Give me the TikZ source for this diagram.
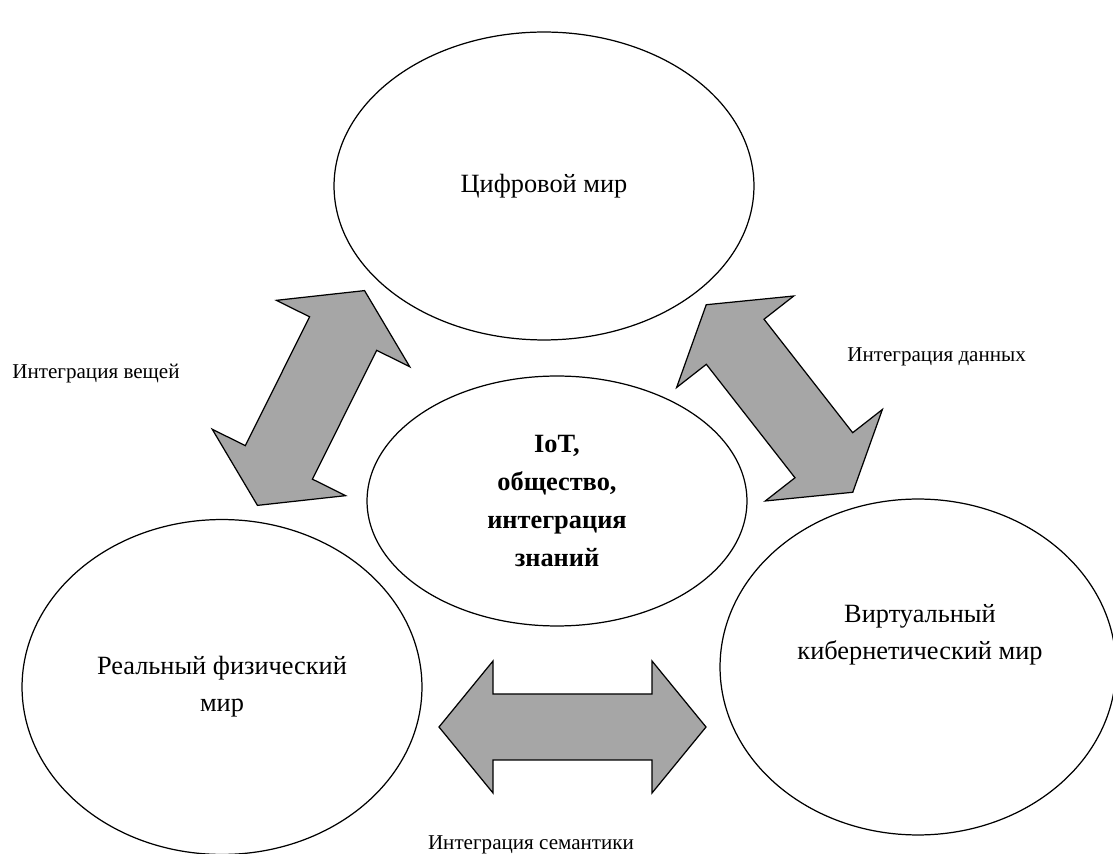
\documentclass[tikz,border=0pt]{standalone}
\usepackage{fontspec}
\setmainfont{Liberation Serif}
\usetikzlibrary{shapes.geometric}
\definecolor{arrowgray}{RGB}{166,166,166}
\tikzset{
	world/.style = {draw = black, line width = 0.7pt, ellipse, inner sep = 0pt, align = center, font = \fontsize{15}{21}\selectfont},
	worldtext/.style = {inner sep = 0pt, align = center, font = \fontsize{15}{21}\selectfont},
	linktext/.style = {inner sep = 0pt, font = \fontsize{12}{14}\selectfont},
	bigarrow/.style = {draw = black, line width = 0.7pt, fill = arrowgray, line join = miter}
}
\begin{document}
\begin{tikzpicture}[x = 0.02cm, y = -0.02cm]
	\useasboundingbox (0, 0) rectangle (1113, 854);
	\node[world, minimum width = 8.4cm, minimum height = 6.16cm] (digital) at (544, 186) {Цифровой мир};
	\node[world, minimum width = 8cm, minimum height = 6.7cm] (physical) at (222, 687) {Реальный физический\\мир};
	\node[world, minimum width = 7.92cm, minimum height = 6.72cm] (virtual) at (918, 667) {};
	\node[worldtext] (virtualtext) at (920, 635) {Виртуальный\\кибернетический мир};
	\node[world, minimum width = 7.6cm, minimum height = 5cm, font = \bfseries\fontsize{15}{21.8}\selectfont] (iot) at (557, 501) {IoT,\\общество,\\интеграция\\знаний};
	\draw[bigarrow, shift = {(311, 398)}, rotate = 63.5] (-120, 0) -- (-72, 74.5) -- (-72, 37.5) -- (72, 37.5) -- (72, 74.5) -- (120, 0) -- (72, -74.5) -- (72, -37.5) -- (-72, -37.5) -- (-72, -74.5) -- cycle;
	\draw[bigarrow, shift = {(779.5, 398.5)}, rotate = 128] (-119, 0) -- (-72, 74.3) -- (-72, 36.6) -- (72, 36.6) -- (72, 74.3) -- (119, 0) -- (72, -74.3) -- (72, -36.6) -- (-72, -36.6) -- (-72, -74.3) -- cycle;
	\draw[bigarrow, shift = {(572.5, 727)}] (-133.5, 0) -- (-79.5, 66) -- (-79.5, 33) -- (79.5, 33) -- (79.5, 66) -- (133.5, 0) -- (79.5, -66) -- (79.5, -33) -- (-79.5, -33) -- (-79.5, -66) -- cycle;
	\node[linktext, anchor = base west] (things) at (12, 379) {Интеграция вещей};
	\node[linktext, anchor = base west] (data) at (847, 362) {Интеграция данных};
	\node[linktext, anchor = base] (semantics) at (531, 849) {Интеграция семантики};
\end{tikzpicture}
\end{document}
